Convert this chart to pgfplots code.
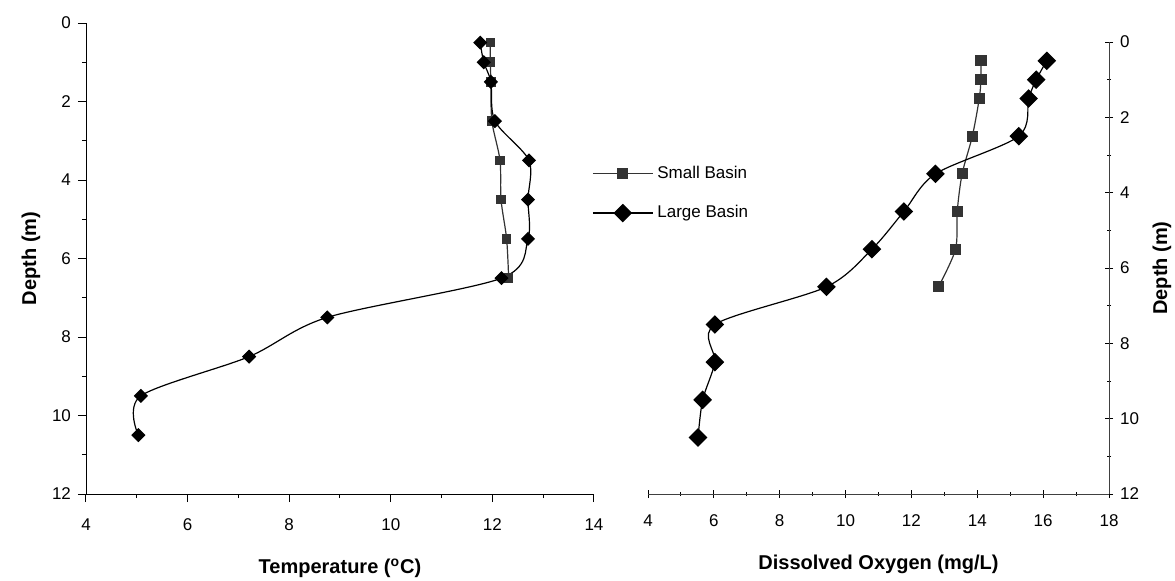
\documentclass[border=0pt]{standalone}
\usepackage{fontspec}
\setmainfont{Liberation Sans}
\usepackage{pgfplots}
\pgfplotsset{compat=1.18}
\usepackage{pgfplotstable}

% depth (m) vs temperature (C)
\pgfplotstableread{
d T
0.5 11.96
1.0 11.96
1.5 11.97
2.5 11.99
3.5 12.15
4.5 12.17
5.5 12.28
6.5 12.32
}\tempsmall
\pgfplotstableread{
d T
0.5 11.76
1.0 11.83
1.5 11.97
2.5 12.05
3.5 12.72
4.5 12.70
5.5 12.70
6.5 12.18
7.5 8.75
8.5 7.21
9.5 5.08
10.5 5.03
}\templarge
% depth (m) vs dissolved oxygen (mg/L)
\pgfplotstableread{
d O
0.5 14.11
1.0 14.11
1.5 14.06
2.5 13.85
3.5 13.54
4.5 13.39
5.5 13.34
6.5 12.82
}\oxsmall
\pgfplotstableread{
d O
0.5 16.11
1.0 15.79
1.5 15.56
2.5 15.26
3.5 12.73
4.5 11.77
5.5 10.80
6.5 9.42
7.5 6.03
8.5 6.03
9.5 5.66
10.5 5.52
}\oxlarge

\definecolor{smallc}{HTML}{333333}

\pgfplotsset{
  profile/.style={
    scale only axis,
    y dir=reverse,
    ymin=0, ymax=12,
    ytick={0,2,...,12}, minor ytick={1,3,...,11},
    axis line style={-},
    major tick length=4pt, minor tick length=2pt,
    tick style={black, line width=0.5pt},
    tick label style={font=\fontsize{8.5}{10}\selectfont},
    xticklabel style={yshift=-5pt},
    label style={font=\fontsize{10}{12}\selectfont\bfseries},
    xlabel style={yshift=-7pt},
    /pgf/number format/assume math mode=true,
    clip=false,
  },
  smallb/.style={smooth, tension=0.5, color=smallc, line width=0.6pt,
    mark=square*, mark options={fill=smallc, draw=smallc}},
  largeb/.style={smooth, tension=0.5, color=black, line width=0.6pt,
    mark=square*, mark options={fill=black, rotate=45}},
}

\begin{document}
\begin{tikzpicture}
\useasboundingbox (0,0) rectangle (587.5pt,290pt);

\begin{axis}[profile,
  at={(43pt,43pt)}, anchor=south west,
  width=254pt, height=235.5pt,
  xmin=4, xmax=14,
  xtick={4,6,...,14}, minor xtick={5,7,...,13},
  axis x line*=bottom, axis y line*=left,
  tick align=outside,
  xlabel={Temperature (\textsuperscript{o}C)},
  ylabel={Depth (m)},
  ylabel style={yshift=-1pt},
]
  \addplot[smallb, mark size=2.1pt] table[x=T, y=d] {\tempsmall};
  \addplot[largeb, mark size=2.2pt] table[x=T, y=d] {\templarge};
\end{axis}

\begin{axis}[profile,
  at={(324pt,43pt)}, anchor=south west,
  width=230.5pt, height=226pt,
  xmin=4, xmax=18,
  xtick={4,6,...,18}, minor xtick={5,7,...,17},
  axis x line*=bottom, axis y line*=right,
  axis line style={black!75},
  tick align=center,
  xlabel={Dissolved Oxygen (mg/L)},
  ylabel={Depth (m)},
  legend style={at={(-0.135,0.665)}, anchor=west, draw=none, fill=none,
    font=\fontsize{8.5}{10}\selectfont, row sep=8pt},
  legend cell align=left,
  legend image code/.code={
    \draw[#1, mark repeat=2, mark phase=2] plot coordinates {(0pt,0pt) (15pt,0pt) (30pt,0pt)};},
]
  \addplot[smallb, mark size=2.5pt] table[x=O, y=d] {\oxsmall};
  \addplot[largeb, mark size=3pt] table[x=O, y=d] {\oxlarge};
  \legend{Small Basin, Large Basin}
\end{axis}
\end{tikzpicture}
\end{document}
